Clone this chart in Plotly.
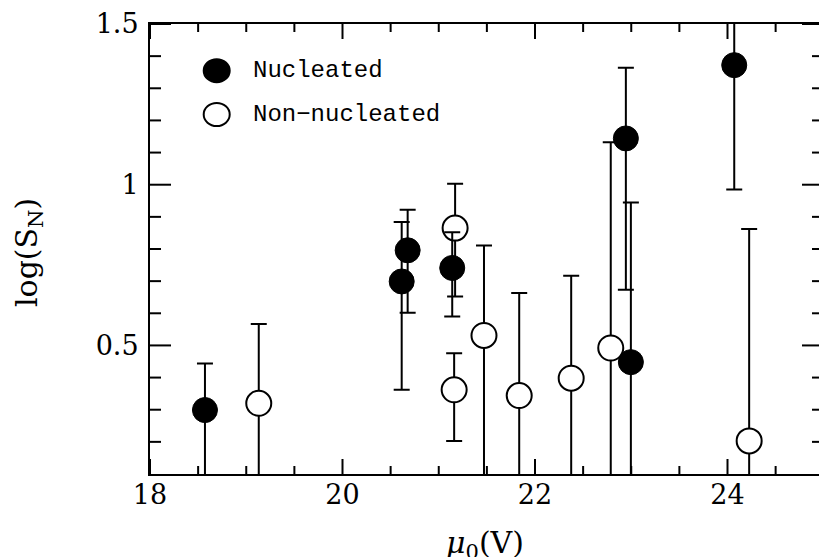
import plotly.graph_objects as go

# Nucleated (filled)
nuc_x = [18.571, 20.615, 20.677, 21.14, 22.944, 22.996, 24.07]
nuc_y = [0.299, 0.699, 0.796, 0.741, 1.144, 0.448, 1.372]
nuc_err_plus = [0.145, 0.185, 0.126, 0.111, 0.220, 0.497, 0.387]
nuc_err_minus = [0.30, 0.337, 0.194, 0.151, 0.471, 0.497, 0.387]

# Non-nucleated (open)
non_x = [19.13, 21.16, 21.17, 21.47, 21.836, 22.376, 22.787, 24.225]
non_y = [0.320, 0.362, 0.865, 0.531, 0.344, 0.398, 0.492, 0.203]
non_err_plus = [0.247, 0.114, 0.138, 0.280, 0.319, 0.319, 0.640, 0.659]
non_err_minus = [0.247, 0.159, 0.213, 0.50, 0.319, 0.319, 0.640, 0.659]

legend_labels = ["Nucleated", "Non\u2212nucleated"]

# axis tick positions
x_major_ticks = [18, 20, 22, 24]
x_minor_ticks = [18.5 + 0.5 * i for i in range(13) if (18.5 + 0.5 * i) % 2 != 0]
y_major_ticks = [0.5, 1.0, 1.5]
y_tick_text = ["0.5", "1", "1.5"]
y_minor_ticks = [round(0.2 + 0.1 * i, 1) for i in range(13)]
y_minor_ticks = [v for v in y_minor_ticks if v not in (0.5, 1.0)]

W, H = 819, 557
ML, MR, MT, MB = 150, 0, 24, 83
PW = W - ML - MR
PH = H - MT - MB
XMIN = 18.0
XMAX = 18.0 + PW / 96.25
YMIN, YMAX = 0.1, 1.5

fig = go.Figure()

fig.add_trace(go.Scatter(
    x=non_x, y=non_y, mode="markers",
    marker=dict(symbol="circle", size=25, color="white",
                line=dict(color="black", width=2)),
    error_y=dict(type="data", symmetric=False, array=non_err_plus,
                 arrayminus=non_err_minus, color="black", thickness=2, width=8),
    showlegend=False,
))
fig.add_trace(go.Scatter(
    x=nuc_x, y=nuc_y, mode="markers",
    marker=dict(symbol="circle", size=25, color="black",
                line=dict(color="black", width=1)),
    error_y=dict(type="data", symmetric=False, array=nuc_err_plus,
                 arrayminus=nuc_err_minus, color="black", thickness=2, width=8),
    showlegend=False,
))

tickfont = dict(family="DejaVu Serif", size=27, color="black")

fig.update_layout(
    width=W, height=H,
    margin=dict(l=ML, r=MR, t=MT, b=MB, pad=0),
    paper_bgcolor="white", plot_bgcolor="white",
    showlegend=False,
    xaxis=dict(
        range=[XMIN, XMAX], showgrid=False, zeroline=False, automargin=False,
        showline=True, linecolor="black", linewidth=2, mirror=True,
        ticks="", tickvals=x_major_ticks, tickfont=tickfont,
        ticklabelstandoff=-4,
    ),
    yaxis=dict(
        range=[YMIN, YMAX], showgrid=False, zeroline=False, automargin=False,
        showline=True, linecolor="black", linewidth=2, mirror=False,
        ticks="", tickvals=y_major_ticks, ticktext=y_tick_text,
        tickfont=tickfont, ticklabelstandoff=4,
    ),
)

tick_line = dict(color="black", width=2)

def xtick(v, length, top):
    fig.add_shape(type="line", xref="x", yref="paper", ysizemode="pixel",
                  yanchor=1 if top else 0, x0=v, x1=v,
                  y0=-length if top else 0, y1=0 if top else length,
                  line=tick_line, layer="above")

def ytick(v, length, right):
    fig.add_shape(type="line", yref="y", xref="paper", xsizemode="pixel",
                  xanchor=1 if right else 0, y0=v, y1=v,
                  x0=-length if right else 0, x1=0 if right else length,
                  line=tick_line, layer="above")

for v in x_major_ticks:
    xtick(v, 15, False)
    xtick(v, 15, True)
for v in x_minor_ticks:
    xtick(v, 8, False)
    xtick(v, 8, True)
for v in y_major_ticks:
    ytick(v, 21, False)
    ytick(v, 17, True)
for v in y_minor_ticks:
    ytick(v, 11, False)
    ytick(v, 7, True)

def sx(px):
    return (px - ML) / PW

def sy(py):
    return (H - MB - py) / PH

leg_rows = [70.7, 114.5]
for i, (lab, cy) in enumerate(zip(legend_labels, leg_rows)):
    fill = "black" if i == 0 else "white"
    fig.add_shape(type="circle", xref="paper", yref="paper",
                  xsizemode="pixel", ysizemode="pixel",
                  xanchor=sx(216.7), yanchor=sy(cy),
                  x0=-13, x1=13, y0=-11.5, y1=11.5,
                  fillcolor=fill, line=dict(color="black", width=2))
    fig.add_annotation(text=lab, xref="paper", yref="paper",
                       x=sx(251), y=sy(cy),
                       xanchor="left", yanchor="middle", showarrow=False,
                       font=dict(family="Liberation Mono", size=24, color="black"))

fig.add_annotation(text="log(S<sub>N</sub>)", xref="paper", yref="paper",
                   x=sx(29), y=sy(252), textangle=-90,
                   xanchor="center", yanchor="middle", showarrow=False,
                   font=dict(family="DejaVu Serif", size=30, color="black"))
fig.add_annotation(text="<i>μ</i><sub>0</sub>(V)", xref="paper", yref="paper",
                   x=sx(485), y=sy(523),
                   xanchor="center", yanchor="top", showarrow=False,
                   font=dict(family="DejaVu Serif", size=30, color="black"))

fig.write_html("out.html",
               config={"displayModeBar": False},
               post_script="document.body.style.margin='0px';"
                           "document.body.style.overflow='hidden';")
